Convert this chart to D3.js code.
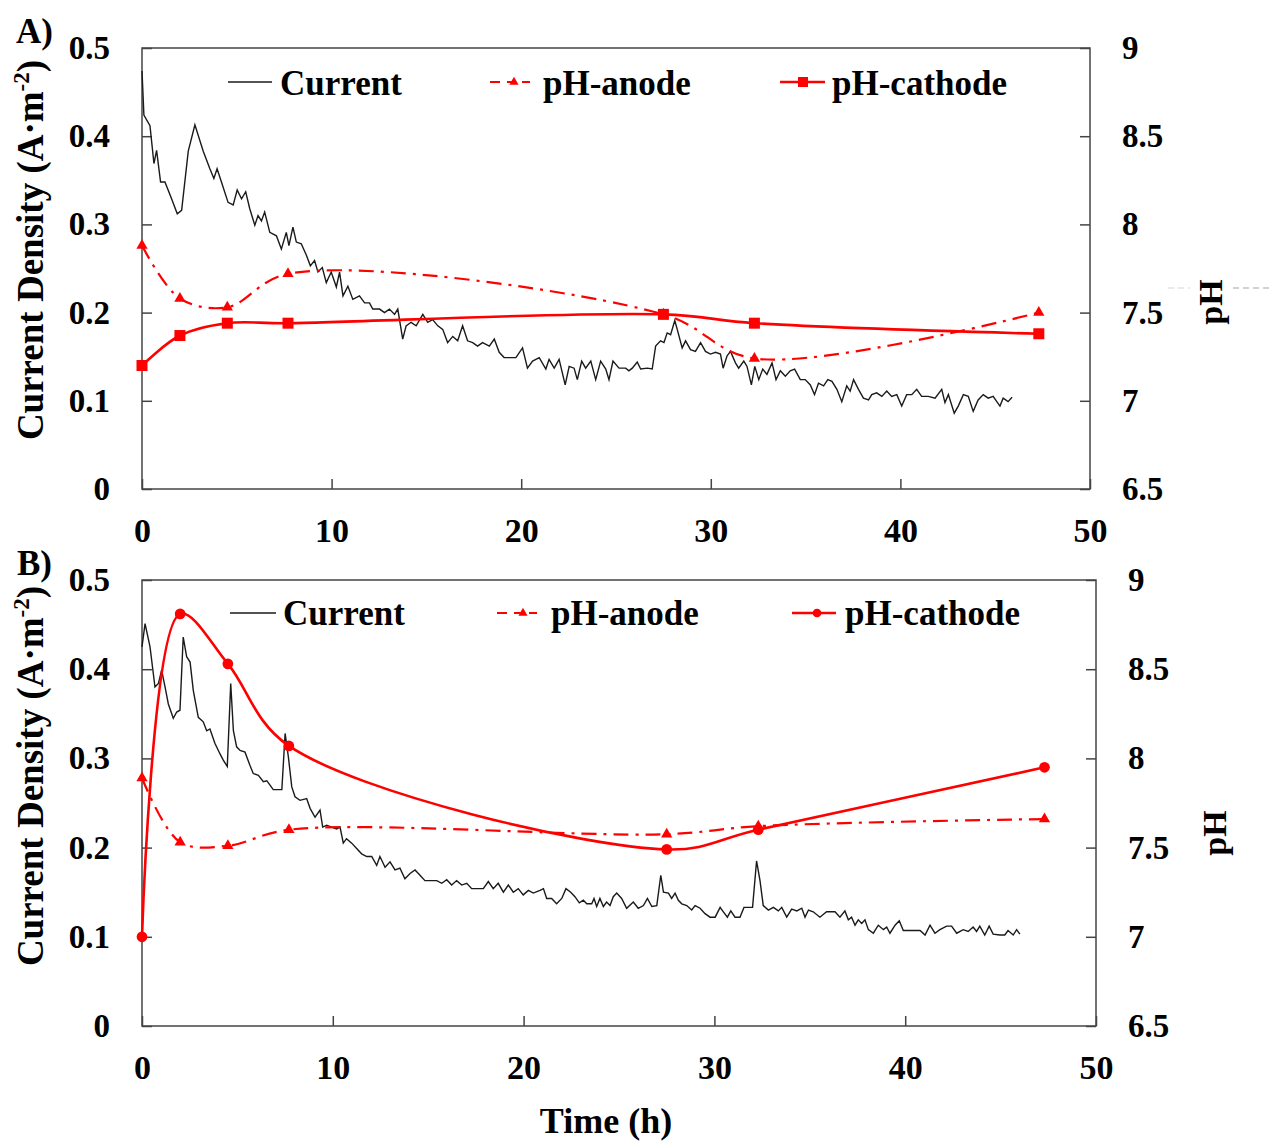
<!DOCTYPE html>
<html>
<head>
<meta charset="utf-8">
<script src="https://cdn.jsdelivr.net/npm/d3@7"></script>
<style>
  body { margin: 0; background: #fff; }
  svg { display: block; }
  text { font-family: "Liberation Serif", "Times New Roman", serif; font-weight: bold; fill: #000; }
</style>
</head>
<body>
<div id="chart"></div>
<script>
// sampling times of the pH measurements (h)
const sampleTimes = [0, 2, 4.5, 7.7, 27.5, 32.3, 47.3];
const anodeA   = [7.88, 7.58, 7.53, 7.72, 7.49, 7.24, 7.50];
const cathodeA = [7.20, 7.37, 7.44, 7.44, 7.49, 7.44, 7.38];
const anodeB   = [7.89, 7.53, 7.51, 7.60, 7.575, 7.62, 7.66];
const cathodeB = [7.00, 8.81, 8.53, 8.07, 7.49, 7.60, 7.95];

// current density traces [time h, A.m-2]
const currentA = [
  [0,0.474],[0.1,0.424],[0.42,0.412],[0.63,0.369],[0.77,0.384],[0.98,0.348],[1.21,0.348],[1.56,0.329],
  [1.86,0.312],[2.09,0.316],[2.44,0.383],[2.79,0.413],[3.23,0.383],[3.58,0.363],[3.79,0.352],[3.96,0.363],
  [4.19,0.348],[4.54,0.325],[4.81,0.322],[5.02,0.339],[5.25,0.329],[5.47,0.337],[5.68,0.318],[5.95,0.299],
  [6.12,0.310],[6.3,0.304],[6.47,0.314],[6.74,0.291],[7.09,0.287],[7.35,0.272],[7.61,0.291],[7.75,0.276],
  [7.96,0.297],[8.14,0.280],[8.4,0.278],[8.67,0.265],[8.88,0.253],[9.1,0.259],[9.28,0.246],[9.51,0.251],
  [9.72,0.234],[9.98,0.246],[10.25,0.229],[10.42,0.246],[10.6,0.219],[10.86,0.230],[11.12,0.215],[11.47,0.219],
  [11.74,0.211],[12.0,0.211],[12.17,0.204],[12.53,0.204],[12.79,0.200],[13.05,0.204],[13.32,0.198],[13.49,0.204],
  [13.75,0.170],[13.93,0.185],[14.19,0.189],[14.46,0.185],[14.81,0.198],[15.07,0.189],[15.33,0.192],[15.6,0.185],
  [15.86,0.181],[16.12,0.166],[16.39,0.173],[16.65,0.168],[16.91,0.185],[17.17,0.168],[17.44,0.166],[17.7,0.162],
  [17.96,0.166],[18.32,0.162],[18.58,0.170],[18.84,0.155],[19.1,0.149],[19.72,0.149],[20.07,0.160],[20.33,0.137],
  [20.6,0.145],[20.95,0.149],[21.3,0.136],[21.47,0.147],[21.74,0.137],[22.0,0.147],[22.32,0.118],[22.53,0.139],
  [22.79,0.137],[22.96,0.124],[23.19,0.145],[23.4,0.137],[23.67,0.145],[23.93,0.124],[24.19,0.145],[24.46,0.136],
  [24.63,0.124],[24.84,0.145],[25.16,0.137],[25.51,0.137],[25.68,0.134],[25.86,0.137],[26.12,0.144],[26.3,0.136],
  [26.65,0.137],[26.91,0.136],[27.09,0.162],[27.35,0.168],[27.53,0.166],[27.7,0.177],[27.88,0.175],[28.1,0.191],
  [28.23,0.181],[28.49,0.160],[28.67,0.168],[28.93,0.158],[29.19,0.156],[29.46,0.166],[29.72,0.156],[29.98,0.153],
  [30.25,0.155],[30.51,0.153],[30.65,0.137],[30.86,0.151],[31.04,0.156],[31.3,0.143],[31.47,0.137],[31.74,0.145],
  [31.91,0.139],[32.14,0.118],[32.32,0.139],[32.53,0.124],[32.74,0.136],[32.96,0.130],[33.23,0.143],[33.44,0.124],
  [33.67,0.134],[33.93,0.128],[34.19,0.134],[34.42,0.136],[34.72,0.124],[34.98,0.124],[35.25,0.118],[35.47,0.107],
  [35.68,0.120],[35.95,0.117],[36.17,0.124],[36.39,0.122],[36.65,0.113],[36.91,0.099],[37.17,0.117],[37.35,0.111],
  [37.53,0.124],[37.79,0.113],[38.05,0.103],[38.32,0.101],[38.49,0.107],[38.75,0.109],[39.02,0.105],[39.28,0.111],
  [39.54,0.105],[39.81,0.107],[40.07,0.094],[40.33,0.107],[40.6,0.107],[40.86,0.113],[41.12,0.105],[41.47,0.105],
  [41.83,0.103],[42.18,0.113],[42.35,0.098],[42.53,0.107],[42.84,0.086],[43.05,0.094],[43.32,0.107],[43.58,0.105],
  [43.84,0.088],[44.1,0.101],[44.37,0.107],[44.63,0.103],[44.89,0.105],[45.25,0.094],[45.42,0.103],[45.68,0.099],
  [45.89,0.104]
];

const currentB = [
  [0,0.425],[0.16,0.451],[0.42,0.425],[0.68,0.380],[0.86,0.384],[1.03,0.399],[1.21,0.380],[1.38,0.361],
  [1.64,0.345],[1.82,0.352],[1.99,0.354],[2.16,0.436],[2.34,0.414],[2.52,0.408],[2.69,0.376],[2.95,0.346],
  [3.21,0.341],[3.39,0.331],[3.56,0.333],[3.82,0.317],[4.09,0.305],[4.26,0.298],[4.47,0.291],[4.65,0.384],
  [4.79,0.331],[4.96,0.313],[5.14,0.309],[5.4,0.307],[5.66,0.292],[5.83,0.283],[6.1,0.281],[6.36,0.274],
  [6.54,0.275],[6.71,0.270],[6.88,0.265],[7.33,0.265],[7.5,0.328],[7.67,0.302],[7.85,0.268],[8.02,0.257],
  [8.28,0.253],[8.63,0.255],[8.81,0.244],[9.07,0.234],[9.33,0.242],[9.47,0.223],[9.68,0.225],[9.94,0.223],
  [10.2,0.221],[10.38,0.223],[10.55,0.205],[10.72,0.210],[10.99,0.205],[11.25,0.199],[11.51,0.193],[11.78,0.190],
  [12.04,0.190],[12.3,0.180],[12.47,0.190],[12.74,0.178],[13.0,0.184],[13.26,0.175],[13.52,0.177],[13.78,0.165],
  [14.05,0.171],[14.31,0.175],[14.57,0.169],[14.83,0.163],[15.45,0.163],[15.71,0.160],[15.97,0.164],[16.23,0.158],
  [16.49,0.163],[16.76,0.158],[17.02,0.160],[17.28,0.154],[17.89,0.154],[18.15,0.162],[18.41,0.154],[18.67,0.160],
  [18.94,0.150],[19.2,0.158],[19.46,0.150],[19.72,0.154],[19.98,0.147],[20.25,0.152],[20.51,0.149],[20.86,0.152],
  [21.04,0.154],[21.21,0.143],[21.47,0.143],[21.73,0.137],[22.0,0.143],[22.22,0.154],[22.47,0.150],[22.69,0.145],
  [22.92,0.138],[23.13,0.141],[23.31,0.137],[23.57,0.137],[23.69,0.143],[23.83,0.134],[24.0,0.143],[24.18,0.134],
  [24.35,0.139],[24.53,0.135],[24.7,0.145],[24.88,0.149],[25.14,0.143],[25.4,0.132],[25.75,0.139],[26.01,0.132],
  [26.28,0.135],[26.49,0.143],[26.72,0.134],[26.98,0.135],[27.19,0.169],[27.33,0.150],[27.59,0.149],[27.76,0.143],
  [27.94,0.149],[28.11,0.141],[28.29,0.137],[28.55,0.135],[28.81,0.130],[28.99,0.135],[29.25,0.132],[29.51,0.126],
  [29.77,0.122],[30.04,0.122],[30.3,0.133],[30.47,0.128],[30.68,0.122],[30.86,0.129],[31.08,0.122],[31.34,0.122],
  [31.55,0.133],[32.0,0.133],[32.21,0.185],[32.39,0.163],[32.56,0.135],[32.83,0.130],[33.09,0.133],[33.35,0.129],
  [33.53,0.133],[33.79,0.122],[34.05,0.131],[34.32,0.129],[34.58,0.132],[34.75,0.122],[34.93,0.130],[35.18,0.128],
  [35.53,0.122],[35.88,0.128],[36.32,0.128],[36.58,0.122],[36.84,0.129],[37.02,0.119],[37.19,0.122],[37.37,0.113],
  [37.54,0.119],[37.72,0.115],[37.89,0.119],[38.07,0.108],[38.33,0.104],[38.59,0.113],[38.86,0.108],[39.03,0.111],
  [39.2,0.104],[39.47,0.113],[39.69,0.118],[39.9,0.107],[40.78,0.107],[41.04,0.102],[41.3,0.113],[41.56,0.104],
  [41.82,0.108],[42.17,0.112],[42.43,0.112],[42.7,0.104],[43.04,0.108],[43.3,0.106],[43.56,0.111],[43.74,0.106],
  [43.91,0.112],[44.17,0.102],[44.4,0.112],[44.61,0.103],[44.96,0.102],[45.22,0.102],[45.39,0.107],[45.66,0.102],
  [45.84,0.108],[46.01,0.103]
];

const timeTicks = [0, 10, 20, 30, 40, 50];
const currentTicks = [0, 0.1, 0.2, 0.3, 0.4, 0.5];
const phTicks = [6.5, 7, 7.5, 8, 8.5, 9];
const legendNames = ["Current", "pH-anode", "pH-cathode"];

const width = 1271, height = 1142;
const red = "#ff0000";
const axisColor = "#444";

const svg = d3.select("#chart").append("svg")
  .attr("width", width)
  .attr("height", height)
  .attr("viewBox", [0, 0, width, height]);

const panels = [
  {
    label: "A)", labelPos: [16, 43],
    left: 142, right: 1090, top: 48, bottom: 489,
    current: currentA, anode: anodeA, cathode: cathodeA, marker: d3.symbolSquare,
    legendY: 82, legendBase: 95,
    legendX: { cur: [228, 272, 280], an: [490, 530, 514, 543], ca: [780, 825, 803, 832] },
    yTitleY: 250, phTitle: [1222, 302]
  },
  {
    label: "B)", labelPos: [17, 575],
    left: 142, right: 1096, top: 580, bottom: 1026,
    current: currentB, anode: anodeB, cathode: cathodeB, marker: d3.symbolCircle,
    legendY: 613, legendBase: 625,
    legendX: { cur: [230, 276, 283], an: [497, 537, 523, 551], ca: [792, 836, 817, 845] },
    yTitleY: 776, phTitle: [1226, 833]
  }
];

const fmt = d3.format("~g");

function styleAxis(axis, size) {
  axis.select(".domain").remove();
  axis.selectAll("line").attr("stroke", axisColor).attr("stroke-width", 1.5);
  axis.selectAll("text").style("font-size", size + "px");
}

function drawPanel(p) {
  const x = d3.scaleLinear().domain([0, 50]).range([p.left, p.right]);
  const y = d3.scaleLinear().domain([0, 0.5]).range([p.bottom, p.top]);
  const yPh = d3.scaleLinear().domain([6.5, 9]).range([p.bottom, p.top]);

  const g = svg.append("g");

  // axes with inward ticks
  const xAxis = g.append("g")
    .attr("transform", `translate(0,${p.bottom})`)
    .call(d3.axisBottom(x).tickValues(timeTicks).tickSize(-10).tickPadding(29).tickFormat(fmt));
  styleAxis(xAxis, 34);

  const yAxis = g.append("g")
    .attr("transform", `translate(${p.left},0)`)
    .call(d3.axisLeft(y).tickValues(currentTicks).tickSize(-10).tickPadding(32).tickFormat(fmt));
  styleAxis(yAxis, 33);

  const yAxisR = g.append("g")
    .attr("transform", `translate(${p.right},0)`)
    .call(d3.axisRight(yPh).tickValues(phTicks).tickSize(-10).tickPadding(32).tickFormat(fmt));
  styleAxis(yAxisR, 33);

  // plot frame
  g.append("rect")
    .attr("x", p.left).attr("y", p.top)
    .attr("width", p.right - p.left).attr("height", p.bottom - p.top)
    .attr("fill", "none")
    .attr("stroke", axisColor)
    .attr("stroke-width", 1.5);

  // current trace
  const currentLine = d3.line().x(d => x(d[0])).y(d => y(d[1]));
  g.append("path")
    .datum(p.current)
    .attr("d", currentLine)
    .attr("fill", "none")
    .attr("stroke", "#1a1a1a")
    .attr("stroke-width", 1.4);

  // pH series, smoothed
  const phLine = d3.line()
    .x((d, i) => x(sampleTimes[i]))
    .y(d => yPh(d))
    .curve(d3.curveCatmullRom.alpha(0.5));

  g.append("path")
    .datum(p.anode)
    .attr("d", phLine)
    .attr("fill", "none")
    .attr("stroke", red)
    .attr("stroke-width", 2.2)
    .attr("stroke-dasharray", "15,7,3,7");

  g.append("path")
    .datum(p.cathode)
    .attr("d", phLine)
    .attr("fill", "none")
    .attr("stroke", red)
    .attr("stroke-width", 2.6);

  g.selectAll(".tri")
    .data(p.anode)
    .join("path")
    .attr("class", "tri")
    .attr("transform", (d, i) => `translate(${x(sampleTimes[i])},${yPh(d)})`)
    .attr("d", d3.symbol(d3.symbolTriangle, 55))
    .attr("fill", red);

  g.selectAll(".cat")
    .data(p.cathode)
    .join("path")
    .attr("class", "cat")
    .attr("transform", (d, i) => `translate(${x(sampleTimes[i])},${yPh(d)})`)
    .attr("d", d3.symbol(p.marker, p.marker === d3.symbolSquare ? 121 : 90))
    .attr("fill", red);

  // legend
  const L = p.legendX;
  g.append("line")
    .attr("x1", L.cur[0]).attr("x2", L.cur[1])
    .attr("y1", p.legendY).attr("y2", p.legendY)
    .attr("stroke", "#1a1a1a").attr("stroke-width", 1.4);
  g.append("line")
    .attr("x1", L.an[0]).attr("x2", L.an[1])
    .attr("y1", p.legendY).attr("y2", p.legendY)
    .attr("stroke", red).attr("stroke-width", 2.2)
    .attr("stroke-dasharray", "10,7,8,7,10");
  g.append("path")
    .attr("transform", `translate(${L.an[2]},${p.legendY})`)
    .attr("d", d3.symbol(d3.symbolTriangle, 36))
    .attr("fill", red);
  g.append("line")
    .attr("x1", L.ca[0]).attr("x2", L.ca[1])
    .attr("y1", p.legendY).attr("y2", p.legendY)
    .attr("stroke", red).attr("stroke-width", 2.6);
  g.append("path")
    .attr("transform", `translate(${L.ca[2]},${p.legendY})`)
    .attr("d", d3.symbol(p.marker, p.marker === d3.symbolSquare ? 100 : 60))
    .attr("fill", red);

  [[L.cur[2], legendNames[0]], [L.an[3], legendNames[1]], [L.ca[3], legendNames[2]]].forEach(([tx, name]) => {
    g.append("text")
      .attr("x", tx).attr("y", p.legendBase)
      .style("font-size", "35px")
      .text(name);
  });

  // panel label
  g.append("text")
    .attr("x", p.labelPos[0]).attr("y", p.labelPos[1])
    .style("font-size", "35px")
    .text(p.label);

  // left axis title
  const yt = g.append("text")
    .attr("transform", `translate(43,${p.yTitleY}) rotate(-90)`)
    .attr("text-anchor", "middle")
    .style("font-size", "37px");
  yt.append("tspan").text("Current Density (A·m");
  yt.append("tspan").attr("dy", -14).style("font-size", "23px").text("-2");
  yt.append("tspan").attr("dy", 14).text(")");

  // right axis title
  g.append("text")
    .attr("transform", `translate(${p.phTitle[0]},${p.phTitle[1]}) rotate(-90)`)
    .attr("text-anchor", "middle")
    .style("font-size", "34px")
    .text("pH");
}

// faint dashed guide next to the first pH title
[[1168, 1190, "#e2e2e2"], [1233, 1271, "#c4c4c4"]].forEach(([a, b, c]) => {
  svg.append("line")
    .attr("x1", a).attr("x2", b).attr("y1", 288).attr("y2", 288)
    .attr("stroke", c).attr("stroke-width", 1.5)
    .attr("stroke-dasharray", "6,4");
});

panels.forEach(drawPanel);

// shared x axis title
svg.append("text")
  .attr("x", 606).attr("y", 1133)
  .attr("text-anchor", "middle")
  .style("font-size", "36px")
  .text("Time (h)");
</script>
</body>
</html>
